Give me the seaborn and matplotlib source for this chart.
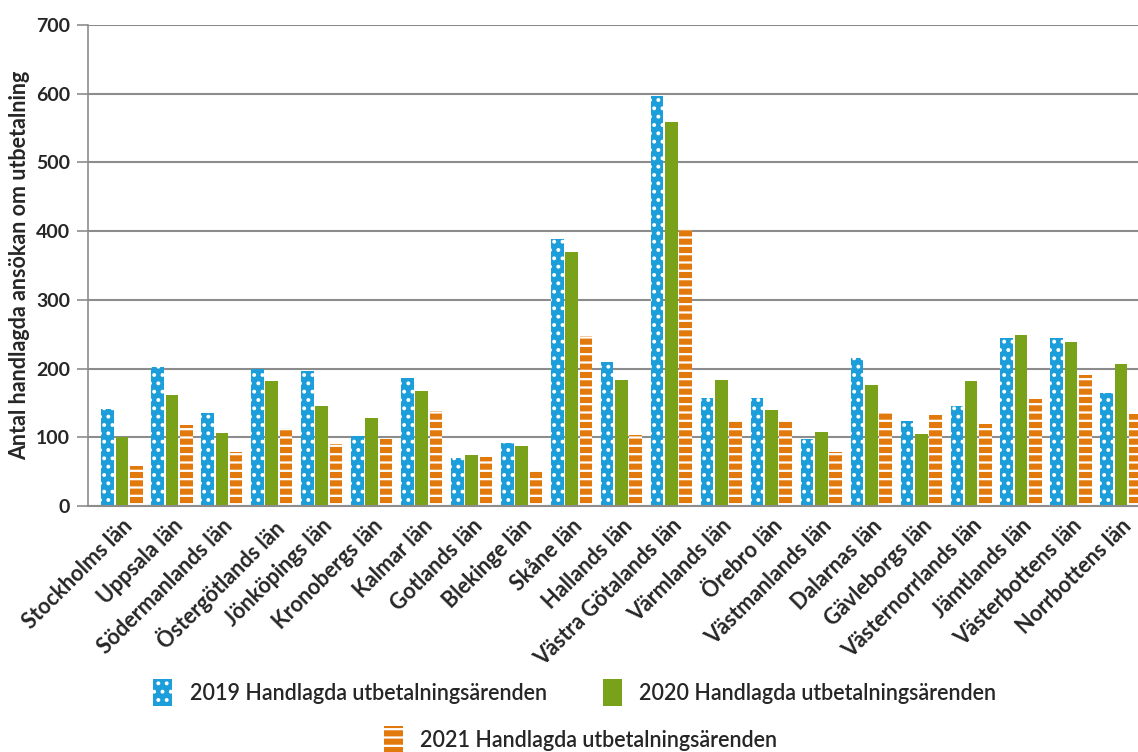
import pandas as pd
import matplotlib.pyplot as plt
import seaborn as sns
from matplotlib.patches import Patch

# Data
lan = ['Stockholms län', 'Uppsala län', 'Södermanlands län', 'Östergötlands län',
       'Jönköpings län', 'Kronobergs län', 'Kalmar län', 'Gotlands län',
       'Blekinge län', 'Skåne län', 'Hallands län', 'Västra Götalands län',
       'Värmlands län', 'Örebro län', 'Västmanlands län', 'Dalarnas län',
       'Gävleborgs län', 'Västernorrlands län', 'Jämtlands län',
       'Västerbottens län', 'Norrbottens län']
v2019 = [141, 203, 136, 200, 196, 102, 186, 70, 92, 389, 209, 597,
         157, 157, 98, 216, 124, 146, 245, 245, 164]
v2020 = [100, 162, 106, 182, 145, 128, 168, 75, 88, 370, 183, 558,
         184, 140, 108, 176, 105, 182, 249, 238, 207]
v2021 = [58, 118, 78, 114, 90, 97, 138, 72, 52, 248, 103, 402,
         125, 124, 78, 136, 133, 119, 156, 191, 134]
series = ['2019 Handlagda utbetalningsärenden',
          '2020 Handlagda utbetalningsärenden',
          '2021 Handlagda utbetalningsärenden']

colors = ['#1b9ed9', '#7aa11a', '#e2790d']
hatches = ['..', None, '--']

df = pd.DataFrame({
    'Län': lan * 3,
    'Antal': v2019 + v2020 + v2021,
    'Serie': [series[0]] * len(lan) + [series[1]] * len(lan) + [series[2]] * len(lan),
})

sns.set_style('white')
plt.rcParams['font.family'] = ['Lato', 'DejaVu Sans']
plt.rcParams['hatch.color'] = 'white'
plt.rcParams['hatch.linewidth'] = 1.6

fig = plt.figure(figsize=(11.38, 7.52), dpi=100)
ax = fig.add_axes([0.0773, 0.327, 0.9227, 0.640])

sns.barplot(data=df, x='Län', y='Antal', hue='Serie', palette=colors,
            width=0.86, gap=0.12, ax=ax, legend=False, saturation=1)

# hatch patterns per series
for cont, h in zip(ax.containers, hatches):
    for bar in cont:
        bar.set_linewidth(0)
        if h:
            bar.set_hatch(h)

ax.set_ylim(0, 700)
ax.set_yticks(range(0, 701, 100))
ax.set_xlim(-0.68, 20.34)
ax.grid(axis='y', color='#8c8c8c', linewidth=1.5)
ax.set_axisbelow(True)
for s in ['top', 'right']:
    ax.spines[s].set_visible(False)
ax.spines['left'].set_color('#8c8c8c')
ax.spines['left'].set_linewidth(1.2)
ax.spines['bottom'].set_color('#8c8c8c')
ax.spines['bottom'].set_linewidth(1.5)
ax.tick_params(axis='y', left=True, length=8, color='#8c8c8c', width=1.2,
               labelsize=14, pad=5)
ax.tick_params(axis='x', bottom=False, labelsize=15.5, pad=3)
for lbl in ax.get_yticklabels():
    lbl.set_fontweight('bold')
ax.set_xticks(range(len(lan)))
ax.set_xticklabels(lan, rotation=45, ha='right', rotation_mode='anchor',
                   fontweight='bold')
ax.set_xlabel('')
ax.set_ylabel('Antal handlagda ansökan om utbetalning', fontsize=15.5,
              fontweight='bold', labelpad=4)

handles = [Patch(facecolor=c, hatch=h if h else '', linewidth=0)
           for c, h in zip(colors, hatches)]
legkw = dict(loc='center', frameon=False, prop={'size': 15.5, 'weight': 'semibold'},
             handlelength=0.9, handleheight=1.6, handletextpad=0.8)
fig.legend(handles[:2], series[:2], ncol=2, bbox_to_anchor=(0.505, 0.079),
           columnspacing=2.6, **legkw)
fig.legend(handles[2:], series[2:], ncol=1, bbox_to_anchor=(0.51, 0.016),
           **legkw)

fig.savefig('out.png', dpi=100)
